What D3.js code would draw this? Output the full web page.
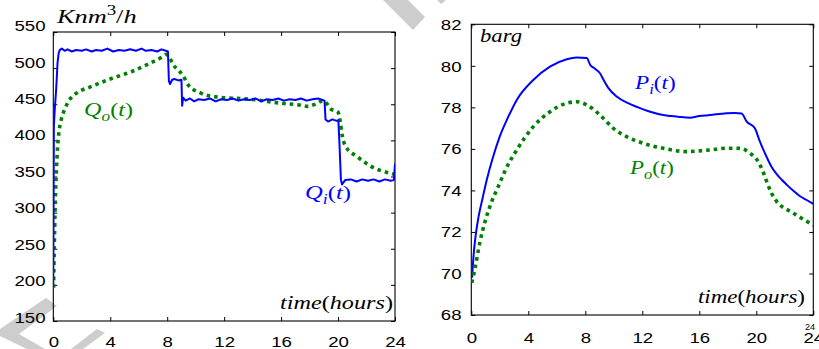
<!DOCTYPE html>
<html><head><meta charset="utf-8">
<script src="https://cdn.jsdelivr.net/npm/d3@7"></script>
<style>html,body{margin:0;padding:0;background:#fff;overflow:hidden}</style>
</head><body>
<svg id="c" width="819" height="349"></svg>
<script>
// ---------- data ----------
const xTicks = [0, 4, 8, 12, 16, 20, 24];
const yTicksL = [150, 200, 250, 300, 350, 400, 450, 500, 550];
const yTicksR = [68, 70, 72, 74, 76, 78, 80, 82];

const qiT = [0, 0.04, 0.1, 0.2, 0.3, 0.38, 0.45, 0.6, 0.8, 1.0, 1.3, 1.6, 2.0, 2.3, 2.7, 3.0, 3.4, 3.8, 4.2, 4.6, 5.0, 5.4, 5.8, 6.2, 6.5, 6.9, 7.3, 7.6, 7.9, 8.05, 8.12, 8.2, 8.35, 8.5, 8.8, 9.0, 9.05, 9.12, 9.3, 9.6, 9.9, 10.2, 10.6, 11.0, 11.4, 11.8, 12.2, 12.6, 13.0, 13.4, 13.8, 14.2, 14.6, 15.0, 15.4, 15.8, 16.2, 16.6, 17.0, 17.4, 17.8, 18.2, 18.6, 18.9, 19.05, 19.12, 19.3, 19.6, 19.9, 20.02, 20.1, 20.2, 20.28, 20.5, 20.9, 21.3, 21.7, 22.1, 22.5, 22.9, 23.3, 23.7, 23.92, 24];
const qiV = [197, 420, 442, 470, 508, 521, 525, 527, 524, 526, 523, 525, 524, 526, 523, 525, 524, 527, 523, 525, 524, 526, 524, 527, 524, 525, 523, 526, 524, 523, 482, 478, 484, 485, 483, 484, 448, 459, 455, 458, 454, 457, 456, 458, 454, 457, 456, 458, 455, 457, 456, 458, 454, 457, 456, 458, 455, 457, 456, 458, 455, 457, 458, 456, 455, 429, 426, 429, 427, 428, 395, 346, 339, 345, 346, 343, 346, 344, 346, 343, 346, 344, 345, 368];

const qoT = [0.02, 0.12, 0.2, 0.3, 0.4, 0.55, 0.8, 1.1, 1.6, 2.6, 4.0, 5.6, 6.6, 7.7, 7.95, 8.2, 8.45, 8.8, 9.13, 9.5, 10.3, 11.5, 13.8, 16.2, 17.3, 17.9, 18.5, 18.95, 19.2, 19.45, 20.0, 20.15, 20.3, 20.55, 21.3, 22.0, 22.5, 23.4, 24];
const qoV = [196, 300, 350, 390, 412, 428, 443, 455, 465, 474, 485, 496, 505, 516, 519, 513, 504, 497, 489, 476, 466, 460, 457, 451, 449, 447, 451, 455, 451, 444, 439, 426, 406, 391, 378, 368, 362, 356, 353];

const piT = [0.05, 0.15, 0.3, 0.5, 0.8, 1.1, 1.5, 2.0, 2.6, 3.19, 4.35, 5.52, 6.7, 7.4, 8.1, 8.35, 8.7, 9.03, 9.26, 9.6, 10.2, 11.0, 11.6, 12.5, 13.47, 14.5, 15.35, 16.0, 16.75, 17.9, 18.5, 18.97, 19.33, 19.9, 20.2, 20.5, 20.8, 21.1, 21.43, 21.8, 22.1, 22.6, 23.07, 23.5, 24];
const piV = [69.8, 70.8, 71.8, 72.7, 73.65, 74.55, 75.55, 76.6, 77.55, 78.36, 79.32, 79.96, 80.32, 80.4, 80.38, 80.04, 79.85, 79.64, 79.35, 78.95, 78.52, 78.2, 78.03, 77.8, 77.63, 77.55, 77.5, 77.58, 77.63, 77.72, 77.73, 77.7, 77.31, 76.99, 76.45, 75.95, 75.5, 75.1, 74.78, 74.5, 74.3, 73.98, 73.72, 73.55, 73.35];

const poT = [0.03, 0.15, 0.26, 0.61, 0.96, 1.43, 1.9, 2.37, 3.19, 4.35, 5.52, 6.7, 7.4, 8.1, 9.03, 9.97, 10.9, 12.07, 13.47, 15.1, 16.75, 17.9, 18.86, 19.56, 20.14, 20.5, 20.8, 21.08, 21.4, 21.66, 22.1, 22.6, 23.2, 23.77, 24];
const poV = [69.55, 69.9, 70.25, 71.53, 72.49, 73.46, 74.2, 74.95, 75.95, 77.07, 77.79, 78.2, 78.27, 78.12, 77.63, 76.99, 76.59, 76.27, 76.03, 75.87, 75.95, 76.03, 76.03, 75.79, 75.38, 74.85, 74.3, 73.85, 73.5, 73.3, 73.1, 72.9, 72.65, 72.42, 72.33];

// ---------- drawing ----------
const svg = d3.select("#c");
svg.append("rect").attr("width", 819).attr("height", 349).attr("fill", "#fff");

const BLUE = "#0000ff", GREEN = "#008000";
const SX = 1.2; // horizontal stretch of the original picture's text

// watermark fragments
const wm = [
  [[383,0],[408,0],[425,17],[413,30]],
  [[437,0],[446,0],[441,4]],
  [[46,298],[57,306],[19,334],[45,349],[27,349],[0,336],[0,329]],
  [[97,329],[105,333],[83,349],[71,349]]
];
svg.append("g").selectAll("polygon").data(wm).join("polygon")
  .attr("points", d => d.map(p => p.join(",")).join(" "))
  .attr("fill", "#cdcdcd");

function panel(cfg) {
  const x = d3.scaleLinear().domain([0, 24]).range([cfg.x0, cfg.x1]);
  const y = d3.scaleLinear().domain(cfg.yDom).range([cfg.y1, cfg.y0]);
  const yLab = d3.scaleLinear().domain(cfg.yDom).range(cfg.yLabRange);
  const g = svg.append("g");
  const clipId = "clip" + cfg.id;
  svg.append("clipPath").attr("id", clipId).append("rect")
    .attr("x", cfg.x0).attr("y", cfg.y0).attr("width", cfg.x1 - cfg.x0).attr("height", cfg.y1 - cfg.y0);

  const tickStyle = s => { s.select(".domain").remove(); s.selectAll("line").attr("stroke", "#000").attr("stroke-width", 1); };
  g.append("g").attr("transform", `translate(0,${cfg.y1})`).call(d3.axisTop(x).tickValues(xTicks).tickSize(4).tickFormat("")).call(tickStyle);
  g.append("g").attr("transform", `translate(0,${cfg.y0})`).call(d3.axisBottom(x).tickValues(xTicks).tickSize(4).tickFormat("")).call(tickStyle);
  g.append("g").attr("transform", `translate(${cfg.x0},0)`).call(d3.axisRight(y).tickValues(cfg.yTicks).tickSize(4).tickFormat("")).call(tickStyle);
  g.append("g").attr("transform", `translate(${cfg.x1},0)`).call(d3.axisLeft(y).tickValues(cfg.yTicks).tickSize(4).tickFormat("")).call(tickStyle);

  const labStyle = s => {
    s.select(".domain").remove();
    s.selectAll("line").remove();
    s.selectAll("text").attr("font-family", "'Liberation Sans', Arial, sans-serif")
      .attr("font-size", 15.5).attr("fill", "#000").attr("transform", `scale(${SX},1)`);
  };
  const xl = g.append("g").attr("transform", `translate(0,${cfg.xLabY})`)
    .call(d3.axisBottom(x).tickValues(xTicks).tickSize(0).tickPadding(0).tickFormat(d3.format("d"))).call(labStyle);
  xl.selectAll("text").attr("y", 0).attr("dy", "0.36em");
  const yl = g.append("g").attr("transform", `translate(${cfg.yLabX},0)`)
    .call(d3.axisLeft(yLab).tickValues(cfg.yTicks).tickSize(0).tickPadding(0).tickFormat(d3.format("d"))).call(labStyle);
  yl.selectAll("text").attr("x", 0).attr("dy", "0.36em").attr("text-anchor", "end");

  g.append("rect").attr("x", cfg.x0).attr("y", cfg.y0).attr("width", cfg.x1 - cfg.x0).attr("height", cfg.y1 - cfg.y0)
    .attr("fill", "none").attr("stroke", "#000").attr("stroke-width", 1.1);

  const plot = g.append("g").attr("clip-path", `url(#${clipId})`);
  return { x, y, g, plot };
}

const L = panel({ id: "L", x0: 53.3, x1: 395, y0: 32, y1: 321, yDom: [150, 550], yTicks: yTicksL,
  yLabRange: [316.7, 25], yLabX: 45.5, xLabY: 341 });
const R = panel({ id: "R", x0: 471.3, x1: 813.3, y0: 24.3, y1: 315, yDom: [68, 82], yTicks: yTicksR,
  yLabRange: [314, 24], yLabX: 461.5, xLabY: 337.5 });

function drawLine(P, ts, vs, color, dotted, curve) {
  const pts = ts.map((t, i) => [t, vs[i]]);
  const line = d3.line().x(d => P.x(d[0])).y(d => P.y(d[1])).curve(curve);
  P.plot.append("path").attr("d", line(pts)).attr("fill", "none").attr("stroke", color)
    .attr("stroke-width", dotted ? 3.6 : 2)
    .attr("stroke-dasharray", dotted ? "3.6,4" : null)
    .attr("stroke-linejoin", "round");
}
drawLine(L, qoT, qoV, GREEN, true, d3.curveMonotoneX);
drawLine(L, qiT, qiV, BLUE, false, d3.curveLinear);
drawLine(R, piT, piV, BLUE, false, d3.curveMonotoneX);
drawLine(R, poT, poV, GREEN, true, d3.curveMonotoneX);

function mathLabel(x, yBase, width, parts, color, size) {
  const t = svg.append("text").attr("transform", `translate(${x},${yBase})`)
    .attr("font-family", "'Liberation Serif', 'Times New Roman', serif").attr("font-size", size).attr("fill", color);
  let shift = 0;
  parts.forEach(p => {
    const sp = t.append("tspan").text(p.t);
    let target = 0;
    if (p.s === "sub") { target = 5; sp.attr("font-size", size * 0.72).attr("font-style", "italic"); }
    else if (p.s === "sup") { target = -8; sp.attr("font-size", size * 0.72); }
    else if (p.s === "i") sp.attr("font-style", "italic");
    if (target !== shift) { sp.attr("dy", target - shift); shift = target; }
  });
  const w = t.node().getBBox().width;
  t.attr("transform", `translate(${x},${yBase}) scale(${width / w},1)`);
}
const I = s => ({ t: s, s: "i" }), N = s => ({ t: s, s: "n" });
const timeParts = [I("time"), N("("), I("hours"), N(")")];
mathLabel(57, 23, 81, [I("Knm"), { t: "3", s: "sup" }, N("/"), I("h")], "#000", 19);
mathLabel(84, 116, 49, [I("Q"), { t: "o", s: "sub" }, N("("), I("t"), N(")")], GREEN, 19);
mathLabel(305, 199, 46, [I("Q"), { t: "i", s: "sub" }, N("("), I("t"), N(")")], BLUE, 19);
mathLabel(280, 309, 113, timeParts, "#000", 19);
mathLabel(480, 42, 42, [I("barg")], "#000", 19);
mathLabel(635, 89, 42, [I("P"), { t: "i", s: "sub" }, N("("), I("t"), N(")")], BLUE, 19);
mathLabel(630, 174, 45, [I("P"), { t: "o", s: "sub" }, N("("), I("t"), N(")")], GREEN, 19);
mathLabel(698, 303, 107, timeParts, "#000", 19);

// stray small "24" artifact seen above the last right-panel tick label
svg.append("text").attr("x", 805).attr("y", 329.5).attr("font-family", "'Liberation Sans', Arial, sans-serif")
  .attr("font-size", 9).attr("fill", "#000").text("24");
</script>
</body></html>
